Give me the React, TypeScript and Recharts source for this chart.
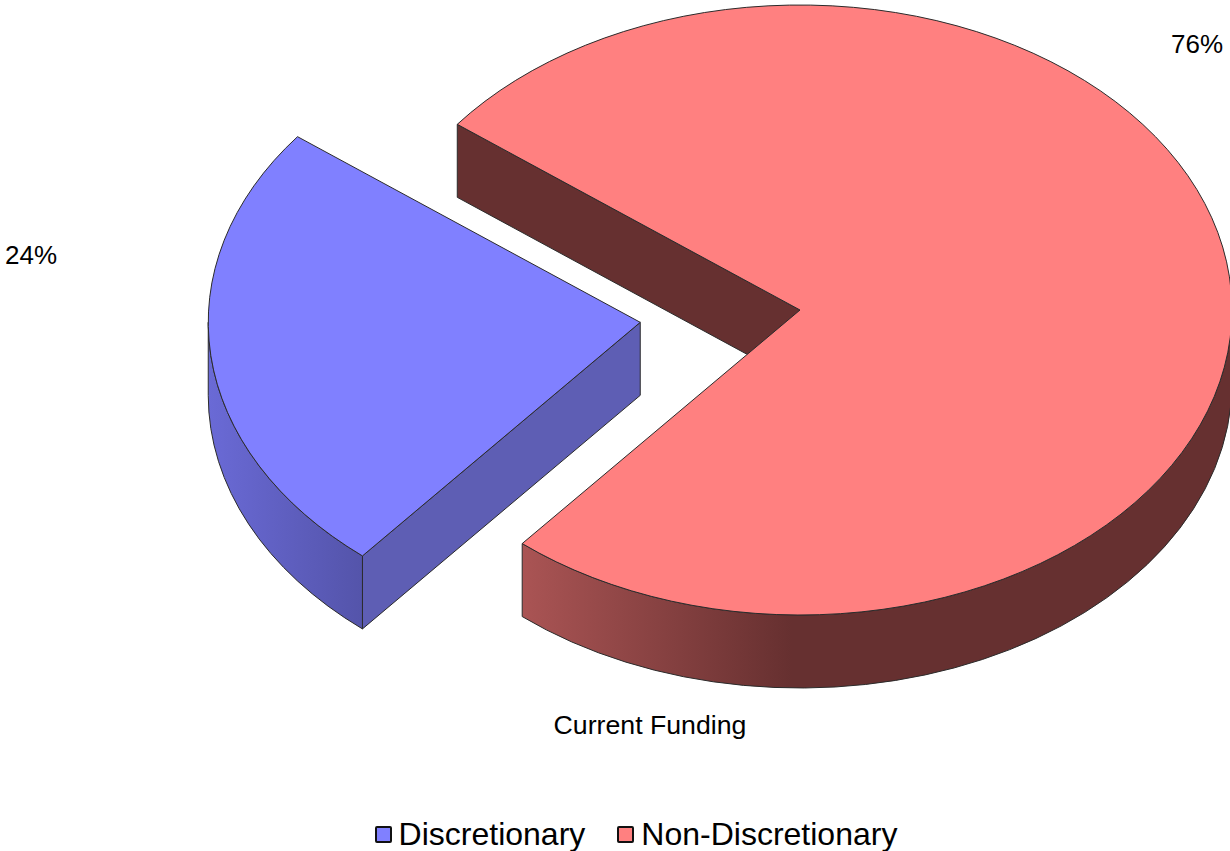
import { PieChart, Pie, Legend } from "recharts";

const WIDTH = 1230;
const HEIGHT = 851;
const FONT = '"Liberation Sans", Arial, sans-serif';

const categories = ["Discretionary", "Non-Discretionary"];
const values = [24.3, 75.7];
const explode = [0.372, 0];

const topColors = ["#8080ff", "#ff8080"];
const faceColors = ["#5e5eb4", "#663030"];
const wallStops = [
  [
    { offset: "0%", color: "#6a6ad6" },
    { offset: "100%", color: "#5454aa" },
  ],
  [
    { offset: "0%", color: "#aa5454" },
    { offset: "38%", color: "#663030" },
    { offset: "100%", color: "#663030" },
  ],
];

// where the two percentage labels sit (centre x, baseline y)
const labelSpots = [
  { x: 31, y: 264 },
  { x: 1197, y: 53 },
];

const data = categories.map((name, i) => ({ name, value: values[i], fill: topColors[i], index: i }));

const CENTER_X = 800;
const CENTER_Y = 310;
const RADIUS = 432;
const TILT = 305 / 432;
const DEPTH = 73;
const EDGE = "#2b2b2b";

const rad = (deg: number) => (deg * Math.PI) / 180;

function Slice3D(props: any) {
  const { cx, cy, outerRadius, startAngle, endAngle, midAngle, payload } = props;
  const i = payload.index;
  const ry = outerRadius * TILT;
  const ox = cx + explode[i] * outerRadius * Math.cos(rad(midAngle));
  const oy = cy - explode[i] * ry * Math.sin(rad(midAngle));
  const pt = (a: number, drop = 0) => ({
    x: ox + outerRadius * Math.cos(rad(a)),
    y: oy - ry * Math.sin(rad(a)) + drop,
  });

  const s = pt(startAngle);
  const e = pt(endAngle);
  const large = endAngle - startAngle > 180 ? 1 : 0;
  const top = `M${ox},${oy} L${s.x},${s.y} A${outerRadius},${ry} 0 ${large} 0 ${e.x},${e.y} Z`;

  const face = (a: number) => {
    const p = pt(a);
    return `M${ox},${oy} L${p.x},${p.y} L${p.x},${p.y + DEPTH} L${ox},${oy + DEPTH} Z`;
  };

  // the part of the rim that faces the viewer is the lower half of the ellipse
  const walls: string[] = [];
  [0, 360].forEach((turn) => {
    const a0 = Math.max(startAngle, 180 + turn);
    const a1 = Math.min(endAngle, 360 + turn);
    if (a1 <= a0) return;
    const p0 = pt(a0);
    const p1 = pt(a1);
    const b0 = pt(a0, DEPTH);
    const b1 = pt(a1, DEPTH);
    walls.push(
      `M${p0.x},${p0.y} A${outerRadius},${ry} 0 0 0 ${p1.x},${p1.y} L${b1.x},${b1.y} A${outerRadius},${ry} 0 0 1 ${b0.x},${b0.y} Z`
    );
  });

  return (
    <g>
      {Math.cos(rad(startAngle)) > 0 && <path d={face(startAngle)} fill={faceColors[i]} stroke={EDGE} />}
      {Math.cos(rad(endAngle)) < 0 && <path d={face(endAngle)} fill={faceColors[i]} stroke={EDGE} />}
      {walls.map((d) => (
        <path key={d} d={d} fill={`url(#wall-${i})`} stroke={EDGE} />
      ))}
      <path d={top} fill={topColors[i]} stroke={EDGE} />
    </g>
  );
}

function renderLabel(props: any) {
  const spot = labelSpots[props.index];
  return (
    <text key={props.index} x={spot.x} y={spot.y} textAnchor="middle" fontSize={26} fontFamily={FONT} fill="#000">
      {Math.round(props.value)}%
    </text>
  );
}

function LegendRow({ payload }: any) {
  return (
    <div
      style={{
        display: "flex",
        justifyContent: "center",
        gap: 32,
        paddingLeft: 42,
        fontFamily: FONT,
        fontSize: 32,
        lineHeight: "37px",
        color: "#000",
      }}
    >
      {(payload || []).map((item: any) => (
        <div key={item.value} style={{ display: "flex", alignItems: "center", gap: 7 }}>
          <span
            style={{
              width: 13,
              height: 13,
              background: item.color,
              border: "2.5px solid #111",
              borderRadius: 2,
              display: "inline-block",
            }}
          />
          {item.value}
        </div>
      ))}
    </div>
  );
}

export default function App() {
  return (
    <div style={{ position: "absolute", left: 0, top: 0, width: WIDTH, height: HEIGHT, background: "#fff", overflow: "hidden" }}>
      <PieChart width={WIDTH} height={HEIGHT} margin={{ top: 0, right: 0, bottom: 0, left: 0 }}>
        <defs>
          {wallStops.map((stops, i) => (
            <linearGradient key={i} id={`wall-${i}`} x1="0" y1="0" x2="1" y2="0">
              {stops.map((st) => (
                <stop key={st.offset} offset={st.offset} stopColor={st.color} />
              ))}
            </linearGradient>
          ))}
        </defs>
        <Pie
          data={data}
          dataKey="value"
          nameKey="name"
          cx={CENTER_X}
          cy={CENTER_Y}
          outerRadius={RADIUS}
          startAngle={142.5}
          endAngle={502.5}
          shape={Slice3D}
          label={renderLabel}
          labelLine={false}
          isAnimationActive={false}
        />
        <text x={650} y={734} textAnchor="middle" fontSize={26.7} fontFamily={FONT} fill="#000">
          Current Funding
        </text>
        <Legend
          content={LegendRow}
          wrapperStyle={{ position: "absolute", left: 0, width: WIDTH, top: 816, bottom: "auto" }}
        />
      </PieChart>
    </div>
  );
}
